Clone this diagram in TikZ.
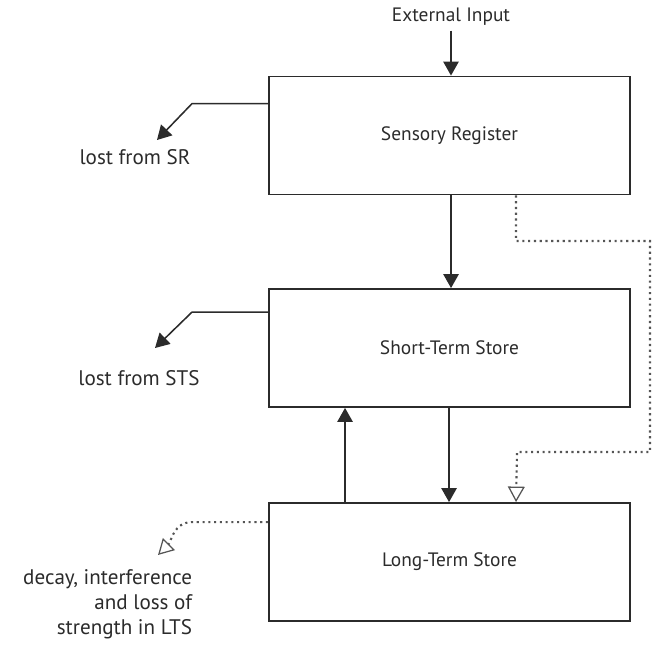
\documentclass[tikz,border=0pt]{standalone}
\usepackage{fontspec}
\setmainfont{PT Sans}
\usetikzlibrary{arrows.meta,positioning,calc}
\definecolor{Ink}{HTML}{2B2B2B}

\begin{document}
\begin{tikzpicture}[x=0.025cm,y=-0.025cm,
    storebox/.style={draw=Ink,line width=1.3pt,minimum width=9.025cm,minimum height=2.95cm,font=\fontsize{13.8}{16}\selectfont,text=Ink},
    flow/.style={draw=Ink,line width=1.1pt,-{Triangle[length=10pt,width=11pt]}},
    hint/.style={draw=Ink!80,line width=1.5pt,dash pattern=on 1.5pt off 2.6pt,-{Triangle[open,length=11pt,width=12pt,line width=.9pt,sep=0pt]}},
    lbl/.style={font=\fontsize{13.8}{17.8}\selectfont,text=Ink},
    side/.style={font=\fontsize{15}{17.8}\selectfont,text=Ink}]
    \useasboundingbox (0,0) rectangle (652,648);
    % stores
    \node[storebox] (sr) at (449.5,135.5) {Sensory Register};
    \node[storebox] (sts) at (449.5,348) {Short-Term Store};
    \node[storebox] (lts) at (449.5,562) {Long-Term Store};
    % input and losses
    \node[lbl] (ext) at (451,17) {External Input};
    \node[side] (lostsr) at (135,157) {lost from SR};
    \node[side] (loststs) at (139,378) {lost from STS};
    \node[side,align=right,anchor=east] (lostlts) at (197,604) {decay, interference\\and loss of\\strength in LTS};
    \coordinate (srtip) at (157,140);
    \coordinate (ststip) at (155,348);
    \coordinate (ltstip) at (158,555);
    \draw[flow] (ext) -- (sr.north -| ext);
    \draw[flow] ($(sr.north west)+(0,28)$) -- ++(-76,0) -- (srtip);
    \draw[flow] ($(sts.north west)+(0,24)$) -- ++(-76,0) -- (ststip);
    \draw[hint] ($(lts.north west)+(0,20)$) -- ++(-76,0) to[out=180,in=45] (ltstip);
    % transfers
    \draw[flow] ($(sr.south west)+(183,0)$) -- ($(sts.north west)+(183,0)$);
    \draw[flow] ($(sts.south west)+(181,0)$) -- ($(lts.north west)+(181,0)$);
    \draw[flow] ($(lts.north west)+(77,0)$) -- ($(sts.south west)+(77,0)$);
    \draw[hint] ($(sr.south west)+(248,0)$) |- (650,241) |- (517,452) -- ($(lts.north west)+(248,0)$);
\end{tikzpicture}
\end{document}
